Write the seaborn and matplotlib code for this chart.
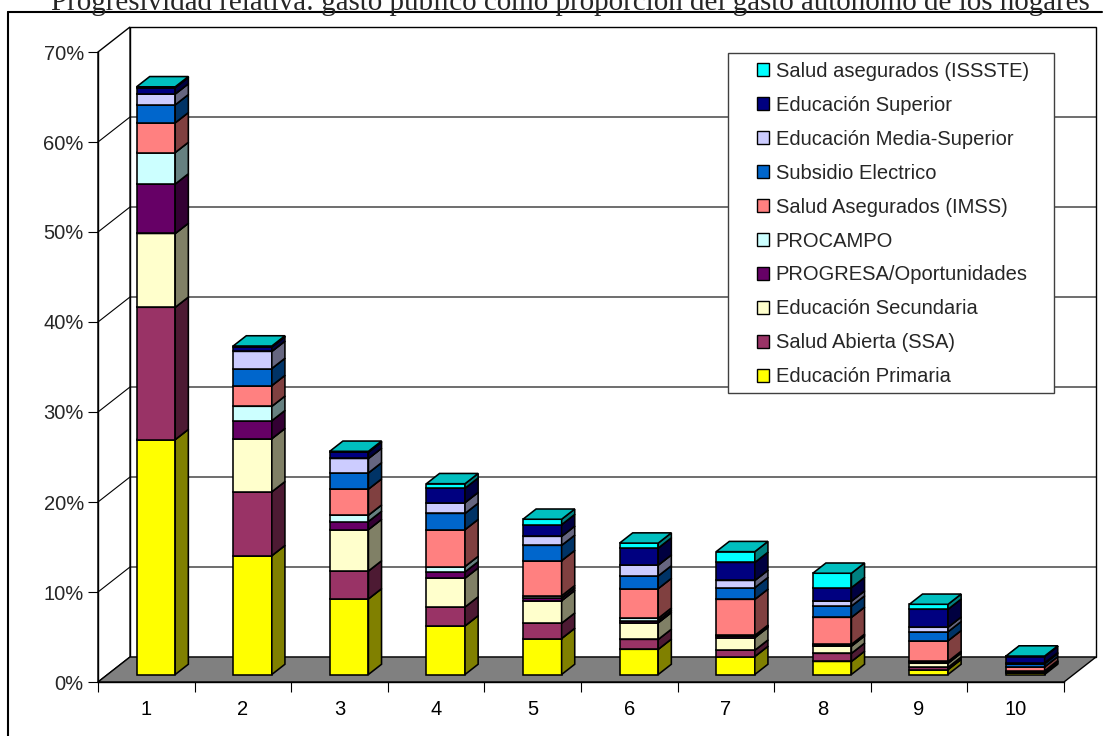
import numpy as np
import pandas as pd
import matplotlib
matplotlib.use("Agg")
import matplotlib.pyplot as plt
from matplotlib.patches import Polygon, Rectangle, Patch
from matplotlib.lines import Line2D
from matplotlib.transforms import Affine2D
from matplotlib.colors import to_rgb
import seaborn as sns

# ---------------------------------------------------------------- data
deciles = [1, 2, 3, 4, 5, 6, 7, 8, 9, 10]

educacion_primaria = [26.1, 13.2, 8.4, 5.4, 4.0, 2.8, 2.0, 1.45, 0.55, 0.15]
salud_abierta_ssa = [14.7, 7.1, 3.1, 2.1, 1.7, 1.1, 0.7, 0.9, 0.25, 0.05]
educacion_secundaria = [8.2, 5.9, 4.6, 3.2, 2.5, 1.85, 1.4, 0.8, 0.45, 0.1]
progresa_oportunidades = [5.5, 2.0, 0.9, 0.7, 0.3, 0.25, 0.15, 0.1, 0.1, 0.05]
procampo = [3.5, 1.6, 0.7, 0.6, 0.25, 0.25, 0.1, 0.1, 0.1, 0.05]
salud_imss = [3.3, 2.3, 2.9, 4.1, 3.9, 3.3, 4.0, 3.0, 2.3, 0.45]
subsidio_electrico = [2.0, 1.9, 1.8, 1.8, 1.7, 1.4, 1.3, 1.25, 1.0, 0.35]
educacion_media_superior = [1.2, 1.9, 1.6, 1.2, 1.0, 1.2, 0.8, 0.55, 0.5, 0.1]
educacion_superior = [0.7, 0.5, 0.7, 1.6, 1.3, 1.9, 2.0, 1.5, 2.0, 0.7]
salud_issste = [0.1, 0.1, 0.1, 0.5, 0.6, 0.55, 1.2, 1.6, 0.55, 0.05]

# legend order (top of the stack first)
series_labels = [
    "Salud asegurados (ISSSTE)",
    "Educación Superior",
    "Educación Media-Superior",
    "Subsidio Electrico",
    "Salud Asegurados (IMSS)",
    "PROCAMPO",
    "PROGRESA/Oportunidades",
    "Educación Secundaria",
    "Salud Abierta (SSA)",
    "Educación Primaria",
]
series_values = [
    salud_issste, educacion_superior, educacion_media_superior,
    subsidio_electrico, salud_imss, procampo, progresa_oportunidades,
    educacion_secundaria, salud_abierta_ssa, educacion_primaria,
]
series_colors = [
    "#00FFFF", "#000080", "#CCCCFF", "#0066CC", "#FF8080",
    "#CCFFFF", "#660066", "#FFFFCC", "#993366", "#FFFF00",
]
y_ticks = [0, 10, 20, 30, 40, 50, 60, 70]
title = "Progresividad relativa: gasto público como proporción del gasto autónomo de los hogares"

df = pd.DataFrame({
    "decil": np.tile(deciles, len(series_labels)),
    "rubro": np.repeat(series_labels, len(deciles)),
    "valor": np.concatenate(series_values),
})

# ---------------------------------------------------------------- figure
sns.set_style("white")
plt.rcParams["font.family"] = ["Liberation Sans", "DejaVu Sans"]

W, H = 1106, 736
fig = plt.figure(figsize=(W / 100, H / 100), dpi=100)


def fx(px):
    return px / W


def fy(py):
    return 1 - py / H


# the axes is the front plane of the 3-D box
ax = fig.add_axes([fx(98), fy(682), fx(1064) - fx(98), fy(52) - fy(682)])
ax.patch.set_visible(False)

LW = 1.15
sns.histplot(
    data=df, x="decil", weights="valor", hue="rubro",
    hue_order=series_labels,
    palette=dict(zip(series_labels, series_colors)),
    multiple="stack", discrete=True, shrink=0.40,
    alpha=1, edgecolor="black", linewidth=LW, legend=False, ax=ax,
)
bars = list(ax.patches)

xmin, xmax = 0.5, len(deciles) + 0.5
ymax = y_ticks[-1]
ax.set_xlim(xmin, xmax)
ax.set_ylim(0, ymax)

# oblique depth vector (data units for a full unit of depth)
px_x = (1064 - 98) / (xmax - xmin)
px_y = (682 - 52) / ymax
DX, DY = 32 / px_x, 25 / px_y

EDGE = dict(edgecolor="black", linewidth=1.0, clip_on=False)

# back wall
ax.add_patch(Polygon([(xmin + DX, DY), (xmax + DX, DY), (xmax + DX, ymax + DY),
                      (xmin + DX, ymax + DY)], facecolor="white", zorder=0.5, **EDGE))
# left wall
ax.add_patch(Polygon([(xmin, 0), (xmin + DX, DY), (xmin + DX, ymax + DY),
                      (xmin, ymax)], facecolor="white", zorder=0.5, **EDGE))
# gridlines running across the left wall and the back wall
for v in y_ticks[1:-1]:
    ax.plot([xmin, xmin + DX, xmax + DX], [v, v + DY, v + DY],
            color="black", lw=0.8, zorder=0.7, clip_on=False)
# floor
ax.add_patch(Polygon([(xmin, 0), (xmax, 0), (xmax + DX, DY), (xmin + DX, DY)],
                     facecolor="#808080", zorder=0.8, **EDGE))


def shade(c, k):
    r, g, b = to_rgb(c)
    return (r * k, g * k, b * k)


# bars sit between depth 0.30 and 0.71
front_d, bar_d = 0.30, 0.41
ox, oy = front_d * DX, front_d * DY
bdx, bdy = bar_d * DX, bar_d * DY
BAR_EDGE = dict(edgecolor="black", linewidth=LW, clip_on=False)

groups = {}
for p in bars:
    key = round(p.get_x() + p.get_width() / 2)
    groups.setdefault(key, []).append(p)

for key, plist in groups.items():
    plist.sort(key=lambda p: p.get_y())
    for k, p in enumerate(plist):
        z = 5 + k * 0.03
        fc = p.get_facecolor()
        p.set_transform(Affine2D().translate(ox, oy) + ax.transData)
        p.set_zorder(z)
        p.set_clip_on(False)
        x0, y0 = p.get_x() + ox, p.get_y() + oy
        w, h = p.get_width(), p.get_height()
        ax.add_patch(Polygon([(x0 + w, y0), (x0 + w + bdx, y0 + bdy),
                              (x0 + w + bdx, y0 + h + bdy), (x0 + w, y0 + h)],
                             facecolor=shade(fc, 0.5), zorder=z + 0.01, **BAR_EDGE))
        ax.add_patch(Polygon([(x0, y0 + h), (x0 + w, y0 + h),
                              (x0 + w + bdx, y0 + h + bdy), (x0 + bdx, y0 + h + bdy)],
                             facecolor=shade(fc, 0.75), zorder=z + 0.02, **BAR_EDGE))

# axes, ticks and labels
for s in ["top", "right"]:
    ax.spines[s].set_visible(False)
for s in ["left", "bottom"]:
    ax.spines[s].set_color("black")
    ax.spines[s].set_linewidth(1.0)
    ax.spines[s].set_zorder(1)

ax.set_xticks(deciles)
ax.set_xticklabels([str(d) for d in deciles])
ax.set_xticks(np.arange(xmin, xmax + 0.01, 1), minor=True)
ax.tick_params(axis="x", which="major", length=0, pad=13, labelsize=14.5, colors="black")
ax.tick_params(axis="x", which="minor", length=7.2, width=0.8, direction="out",
               bottom=True, color="black")
ax.set_yticks(y_ticks)
ax.set_yticklabels([f"{v}%" for v in y_ticks])
ax.tick_params(axis="y", length=7.2, width=0.8, pad=3, labelsize=14.5,
               direction="out", left=True, color="black")
ax.set_xlabel("")
ax.set_ylabel("")

# title and chart-area border
fig.text(fx(570), fy(9.5), title, ha="center", va="baseline",
         family=["Liberation Serif", "DejaVu Serif"], fontsize=20.9)
fig.add_artist(Line2D([fx(8), fx(1102)], [fy(12), fy(12)], color="black", lw=1.5))
fig.add_artist(Line2D([fx(8), fx(8)], [fy(12), fy(H + 5)], color="black", lw=1.5))

# legend
fig.add_artist(Rectangle((fx(728), fy(393)), fx(1054) - fx(728), fy(53) - fy(393),
                         transform=fig.transFigure, facecolor="white",
                         edgecolor="#404040", linewidth=1.0, zorder=4))
handles = [Patch(facecolor=c, edgecolor="black", linewidth=1.0) for c in series_colors]
fig.legend(handles, series_labels, loc="upper left",
           bbox_to_anchor=(fx(757), fy(62)), bbox_transform=fig.transFigure,
           frameon=False, fontsize=14.5, handlelength=0.62, handleheight=0.62,
           handletextpad=0.3, labelspacing=0.74, borderpad=0, borderaxespad=0)

fig.savefig("out.png", dpi=100)
